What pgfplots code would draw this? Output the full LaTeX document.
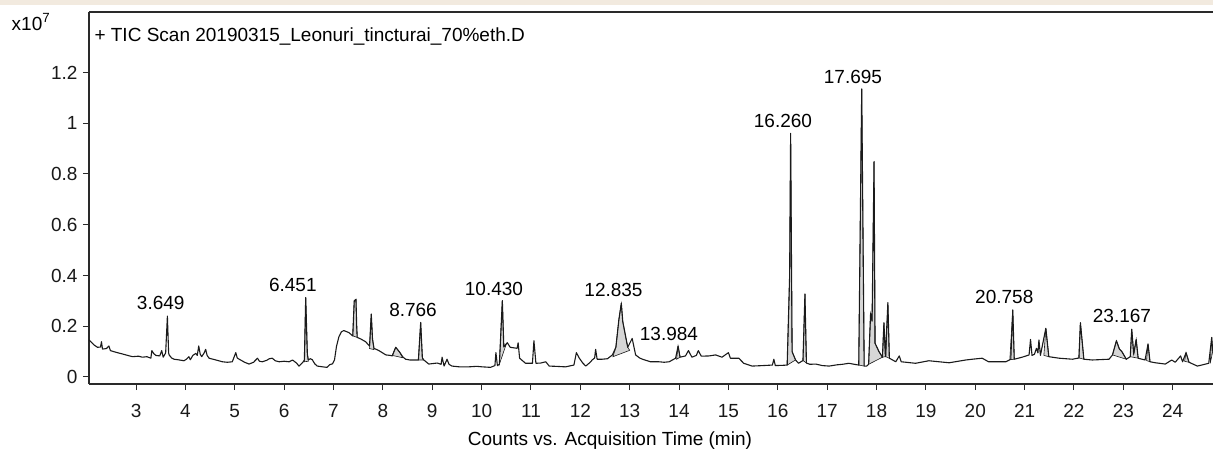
\documentclass[border=0pt]{standalone}
\usepackage{pgfplots}
\pgfplotsset{compat=1.18}
\usepackage{fontspec}
\setmainfont{Liberation Sans}
\definecolor{beige}{HTML}{F2EADF}
\definecolor{trace}{HTML}{1A1A1A}
\definecolor{shade}{HTML}{D6D6D6}
\definecolor{axcol}{HTML}{2A2A2A}
\begin{document}
\begin{tikzpicture}
\useasboundingbox (-89bp,-66bp) rectangle (1124bp,384bp);
\fill[beige] (-89bp,379bp) rectangle (1124bp,384bp);
\begin{axis}[
  at={(0,0)}, anchor=south west,
  scale only axis, width=1124bp, height=372bp,
  xmin=2.047, xmax=24.816, ymin=-0.0276, ymax=1.438,
  clip mode=individual,
  axis x line*=bottom, axis y line*=left,
  axis line style={line width=1.3bp, color=axcol, -},
  tick align=outside, major tick length=6bp,
  tick style={line width=1bp, color=axcol},
  xtick={3,4,...,24}, ytick={0,0.2,0.4,0.6,0.8,1,1.2},
  font=\fontsize{19bp}{22bp}\selectfont,
  /pgf/number format/assume math mode=true,
  ticklabel style={color=black!90},
  xticklabel style={yshift=-11bp},
  yticklabel style={xshift=-2bp},
  xlabel={Counts vs. Acquisition Time (min)},
  xlabel style={at={(rel axis cs:0.4635,0)}, anchor=center, yshift=-57bp},
]
% shaded integrated peaks
\addplot[fill=shade, draw=trace, line width=0.6bp] coordinates {(6.41,0.060)(6.437,0.313)(6.47,0.090)(6.49,0.062)} --cycle;
\addplot[fill=shade, draw=trace, line width=0.6bp] coordinates {(7.39,0.162)(7.42,0.300)(7.455,0.306)(7.47,0.200)(7.48,0.156)} --cycle;
\addplot[fill=shade, draw=trace, line width=0.6bp] coordinates {(7.73,0.112)(7.765,0.248)(7.79,0.150)(7.82,0.108)} --cycle;
\addplot[fill=shade, draw=trace, line width=0.6bp] coordinates {(8.19,0.085)(8.26,0.117)(8.34,0.098)(8.40,0.076)} --cycle;
\addplot[fill=shade, draw=trace, line width=0.6bp] coordinates {(8.72,0.067)(8.766,0.215)(8.80,0.075)(8.83,0.067)} --cycle;
\addplot[fill=shade, draw=trace, line width=0.6bp] coordinates {(10.36,0.050)(10.42,0.301)(10.45,0.119)(10.50,0.130)} --cycle;
\addplot[fill=shade, draw=trace, line width=0.6bp] coordinates {(12.66,0.080)(12.72,0.117)(12.78,0.225)(12.83,0.290)(12.86,0.218)(12.96,0.117)(13.00,0.105)} --cycle;
\addplot[fill=shade, draw=trace, line width=0.6bp] coordinates {(13.95,0.070)(13.98,0.122)(14.02,0.078)} --cycle;
\addplot[fill=shade, draw=trace, line width=0.6bp] coordinates {(16.19,0.047)(16.24,0.400)(16.26,0.960)(16.29,0.100)(16.36,0.067)} --cycle;
\addplot[fill=shade, draw=trace, line width=0.6bp] coordinates {(16.51,0.065)(16.55,0.327)(16.58,0.055)} --cycle;
\addplot[fill=shade, draw=trace, line width=0.6bp] coordinates {(17.64,0.047)(17.70,1.135)(17.75,0.043)} --cycle;
\addplot[fill=shade, draw=trace, line width=0.6bp] coordinates {(17.84,0.050)(17.88,0.251)(17.91,0.220)(17.95,0.849)(17.97,0.133)(18.05,0.100)(18.12,0.078)} --cycle;
\addplot[fill=shade, draw=trace, line width=0.6bp] coordinates {(18.12,0.078)(18.15,0.214)(18.18,0.080)} --cycle;
\addplot[fill=shade, draw=trace, line width=0.6bp] coordinates {(18.19,0.080)(18.23,0.293)(18.26,0.074)} --cycle;
\addplot[fill=shade, draw=trace, line width=0.6bp] coordinates {(20.70,0.068)(20.76,0.264)(20.79,0.070)} --cycle;
\addplot[fill=shade, draw=trace, line width=0.6bp] coordinates {(21.39,0.085)(21.43,0.192)(21.49,0.080)} --cycle;
\addplot[fill=shade, draw=trace, line width=0.6bp] coordinates {(22.10,0.075)(22.13,0.214)(22.20,0.070)} --cycle;
\addplot[fill=shade, draw=trace, line width=0.6bp] coordinates {(22.78,0.087)(22.86,0.143)(22.92,0.110)(22.97,0.100)(23.06,0.070)} --cycle;
\addplot[fill=shade, draw=trace, line width=0.6bp] coordinates {(23.14,0.080)(23.17,0.188)(23.21,0.090)(23.26,0.148)(23.30,0.074)} --cycle;
\addplot[fill=shade, draw=trace, line width=0.6bp] coordinates {(23.47,0.065)(23.50,0.130)(23.54,0.060)} --cycle;
\addplot[fill=shade, draw=trace, line width=0.6bp] coordinates {(24.24,0.062)(24.27,0.096)(24.33,0.058)} --cycle;
\addplot[fill=shade, draw=trace, line width=0.6bp] coordinates {(24.76,0.054)(24.79,0.156)(24.81,0.100)} --cycle;
% TIC trace
\addplot[trace, line width=1.1bp, line join=round] coordinates {
(2.048,0.146)(2.15,0.126)(2.22,0.117)(2.28,0.118)(2.30,0.139)(2.32,0.110)(2.40,0.112)(2.45,0.122)(2.48,0.104)
(2.60,0.097)(2.72,0.091)(2.85,0.084)(2.93,0.080)(3.05,0.082)(3.13,0.078)(3.22,0.080)(3.30,0.074)(3.32,0.104)
(3.36,0.092)(3.40,0.085)(3.48,0.083)(3.52,0.104)(3.55,0.078)(3.60,0.095)(3.635,0.240)(3.66,0.095)(3.67,0.087)
(3.72,0.075)(3.77,0.070)(3.85,0.068)(3.97,0.064)(4.02,0.070)(4.07,0.080)(4.10,0.068)(4.15,0.085)(4.21,0.093)
(4.24,0.085)(4.27,0.122)(4.30,0.090)(4.33,0.080)(4.38,0.095)(4.41,0.109)(4.44,0.085)(4.48,0.074)(4.60,0.068)
(4.75,0.060)(4.85,0.058)(4.95,0.060)(5.02,0.096)(5.05,0.075)(5.09,0.070)(5.20,0.058)(5.29,0.051)(5.38,0.058)
(5.46,0.074)(5.50,0.062)(5.56,0.060)(5.65,0.066)(5.70,0.072)(5.76,0.074)(5.82,0.064)(5.90,0.060)(6.00,0.062)
(6.10,0.060)(6.17,0.067)(6.25,0.055)(6.30,0.043)(6.38,0.058)(6.41,0.067)(6.437,0.313)(6.47,0.090)(6.49,0.067)
(6.53,0.072)(6.57,0.068)(6.62,0.052)(6.67,0.043)(6.78,0.040)(6.87,0.038)(6.92,0.048)(6.98,0.052)(7.02,0.067)
(7.06,0.120)(7.11,0.159)(7.16,0.178)(7.21,0.183)(7.31,0.175)(7.39,0.162)(7.42,0.300)(7.455,0.306)(7.47,0.200)
(7.48,0.156)(7.55,0.150)(7.65,0.139)(7.73,0.122)(7.765,0.248)(7.79,0.150)(7.82,0.113)(7.92,0.104)(8.06,0.087)
(8.15,0.085)(8.19,0.083)(8.26,0.117)(8.34,0.098)(8.40,0.080)(8.46,0.070)(8.55,0.067)(8.60,0.067)(8.72,0.067)
(8.766,0.215)(8.80,0.075)(8.83,0.067)(8.93,0.051)(9.10,0.055)(9.18,0.050)(9.20,0.078)(9.24,0.043)(9.30,0.070)
(9.34,0.050)(9.40,0.043)(9.55,0.040)(9.74,0.040)(9.90,0.042)(10.01,0.040)(10.18,0.038)(10.27,0.045)(10.29,0.096)
(10.32,0.045)(10.36,0.050)(10.42,0.301)(10.45,0.119)(10.52,0.135)(10.58,0.117)(10.65,0.115)(10.72,0.113)(10.74,0.135)
(10.77,0.074)(10.89,0.054)(11.03,0.054)(11.06,0.143)(11.10,0.054)(11.20,0.055)(11.30,0.060)(11.37,0.043)(11.50,0.042)
(11.70,0.040)(11.87,0.047)(11.92,0.096)(11.98,0.074)(12.05,0.055)(12.11,0.043)(12.20,0.058)(12.24,0.067)(12.29,0.075)
(12.31,0.109)(12.34,0.070)(12.44,0.070)(12.55,0.072)(12.65,0.087)(12.72,0.117)(12.78,0.225)(12.83,0.290)(12.86,0.218)
(12.96,0.117)(13.05,0.152)(13.12,0.087)(13.20,0.075)(13.26,0.070)(13.42,0.060)(13.59,0.060)(13.70,0.058)(13.80,0.060)
(13.93,0.074)(13.98,0.122)(14.02,0.078)(14.13,0.083)(14.19,0.104)(14.26,0.078)(14.35,0.085)(14.39,0.104)(14.45,0.082)
(14.61,0.083)(14.74,0.087)(14.87,0.078)(15.00,0.096)(15.04,0.074)(15.21,0.074)(15.31,0.054)(15.48,0.043)(15.70,0.045)
(15.89,0.047)(15.92,0.070)(15.95,0.045)(16.10,0.046)(16.19,0.047)(16.24,0.400)(16.26,0.960)(16.29,0.100)(16.36,0.067)
(16.42,0.054)(16.51,0.065)(16.55,0.327)(16.58,0.055)(16.65,0.050)(16.77,0.051)(16.90,0.045)(17.04,0.043)(17.20,0.048)
(17.31,0.050)(17.44,0.054)(17.55,0.050)(17.64,0.047)(17.70,1.135)(17.75,0.043)(17.80,0.043)(17.84,0.050)(17.88,0.251)
(17.91,0.220)(17.95,0.849)(17.97,0.133)(18.05,0.100)(18.12,0.078)(18.15,0.214)(18.18,0.080)(18.23,0.293)(18.26,0.074)
(18.39,0.060)(18.46,0.083)(18.50,0.060)(18.79,0.054)(19.06,0.064)(19.47,0.056)(19.81,0.067)(19.94,0.070)(20.14,0.074)
(20.27,0.060)(20.62,0.060)(20.72,0.070)(20.76,0.264)(20.79,0.070)(20.95,0.078)(21.09,0.087)(21.12,0.148)(21.15,0.085)
(21.20,0.090)(21.24,0.113)(21.27,0.095)(21.29,0.146)(21.32,0.085)(21.43,0.192)(21.49,0.080)(21.70,0.074)(21.97,0.070)
(22.10,0.075)(22.13,0.214)(22.20,0.070)(22.37,0.067)(22.71,0.070)(22.78,0.087)(22.86,0.143)(22.92,0.110)(22.97,0.100)
(23.06,0.070)(23.14,0.080)(23.17,0.188)(23.21,0.090)(23.26,0.148)(23.30,0.074)(23.44,0.067)(23.50,0.130)(23.54,0.060)
(23.65,0.056)(23.85,0.051)(23.98,0.067)(24.05,0.058)(24.16,0.083)(24.20,0.060)(24.27,0.096)(24.33,0.058)(24.50,0.043)
(24.73,0.054)(24.79,0.156)(24.81,0.100)
};
% peak labels
\node at (axis cs:3.50,0.290) {3.649};
\node at (axis cs:6.176,0.3626) {6.451};
\node at (axis cs:8.611,0.264) {8.766};
\node at (axis cs:10.251,0.3456) {10.430};
\node at (axis cs:12.672,0.343) {12.835};
\node at (axis cs:13.796,0.1695) {13.984};
\node at (axis cs:16.105,1.010) {16.260};
\node at (axis cs:17.523,1.181) {17.695};
\node at (axis cs:20.588,0.3165) {20.758};
\node at (axis cs:22.972,0.240) {23.167};
% frame top, headers
\draw[line width=1.3bp, axcol] (rel axis cs:0,1) -- (rel axis cs:1,1);
\node[anchor=west] at ([xshift=2bp,yshift=-25bp]rel axis cs:0,1) {+ TIC Scan 20190315\_Leonuri\_tincturai\_70\%eth.D};
\node at ([xshift=-58bp,yshift=-10bp]rel axis cs:0,1) {x10\textsuperscript{7}};
\end{axis}
\end{tikzpicture}
\end{document}
